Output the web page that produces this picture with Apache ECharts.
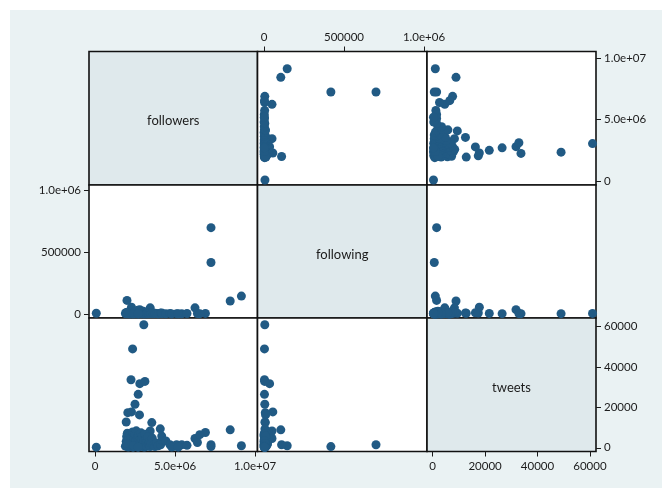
<!DOCTYPE html>
<html>
<head>
<meta charset="utf-8">
<script src="https://cdn.jsdelivr.net/npm/echarts@6/dist/echarts.min.js"></script>
<style>
  html, body { margin: 0; padding: 0; background: #ffffff; }
  #chart { width: 662px; height: 489px; }
</style>
</head>
<body>
<div id="chart"></div>
<script>
// Variable names shown on the diagonal
const varNames = ['followers', 'following', 'tweets'];

// One entry per account
const followers = [
  3050000, 2350000, 2250000, 2800000, 3120000, 2700000, 2500000, 2050000, 2280000, 2780000,
  1950000, 3550000, 4080000, 8450000, 6900000, 6250000, 6400000, 6550000, 3450000, 9150000,
  7250000, 7250000, 2000000, 80000,
  1900000, 1950000, 1980000, 2020000, 2050000, 2080000, 2120000, 2150000, 2180000, 2220000,
  2250000, 2280000, 2320000, 2350000, 2380000, 2420000, 2450000, 2480000, 2520000, 2550000,
  2580000, 2620000, 2650000, 2680000, 2720000, 2750000, 2780000, 2820000, 2850000, 2880000,
  2920000, 2950000, 2980000, 3020000, 3050000, 3080000, 3120000, 3150000, 3180000, 3220000,
  3250000, 3300000, 3350000, 3400000, 3450000, 3500000, 3580000, 3650000, 3750000, 3850000,
  3950000, 4100000, 4200000, 4170000, 4430000, 4690000, 5100000, 5420000, 5750000, 2000000,
  2400000, 2700000, 4800000, 5200000
];
const following = [
  5000, 3000, 3000, 35000, 4000, 3000, 5000, 8000, 55000, 10000,
  6000, 8000, 6000, 105000, 5000, 50000, 4000, 3000, 50000, 145000,
  700000, 418000, 110000, 6000,
  4000, 12000, 2000, 8000, 15000, 3000, 6000, 20000, 1000, 9000,
  5000, 14000, 2000, 25000, 7000, 3000, 11000, 1500, 18000, 4000,
  9000, 2500, 6000, 30000, 1000, 8000, 4000, 12000, 2000, 16000,
  5000, 3000, 7000, 22000, 1000, 9000, 4000, 13000, 2000, 6000,
  3000, 10000, 1500, 5000, 8000, 3000, 12000, 2000, 6000, 4000,
  1000, 7000, 3000, 9000, 2000, 5000, 3000, 2000, 4000, 6000,
  2000, 3000, 1000, 2000
];
const tweets = [
  61000, 49000, 33700, 31800, 32900, 26500, 21600, 17400, 17800, 16300,
  12800, 12500, 9400, 8900, 7600, 4600, 2600, 6500, 8300, 1000,
  1500, 600, 1500, 300,
  800, 3200, 5600, 7200, 1500, 400, 4300, 2400, 6500, 800,
  3800, 5200, 1900, 7800, 300, 2900, 4600, 6900, 1200, 3400,
  8400, 500, 2200, 5000, 6100, 1600, 3900, 700, 2700, 7400,
  4400, 1000, 5800, 2000, 3300, 400, 6700, 1400, 4100, 2600,
  800, 5300, 1800, 3000, 600, 2300, 4800, 1200, 600, 2400,
  1000, 1500, 3600, 5800, 3400, 1500, 1500, 1500, 1200, 2100,
  1000, 300, 400, 300
];

// Axis ticks and their labels
const followersTicks = [0, 5000000, 10000000];
const followersTickLabels = ['0', '5.0e+06', '1.0e+07'];
const followingTicks = [0, 500000, 1000000];
const followingTickLabels = ['0', '500000', '1.0e+06'];
const tweetsTicks = [0, 20000, 40000, 60000];
const tweetsTickLabels = ['0', '20000', '40000', '60000'];

const vars = [followers, following, tweets];
const ticks = [followersTicks, followingTicks, tweetsTicks];
const tickLabels = [followersTickLabels, followingTickLabels, tweetsTickLabels];

// Cell layout (pixels) and axis extents per column / row
const colEdges = [89, 257.5, 427, 596];
const rowEdges = [51.5, 185, 318, 451.5];
const colExtent = [[-375000, 10156000], [-40600, 1018750], [-2175, 62330]];
const rowExtent = [[-326000, 10554000], [-32400, 1046000], [-1840, 64330]];

const FONT = 'Lato, "DejaVu Sans", sans-serif';
const INK = '#1b1b1b';
const MARK = '#215a84';

function labelFor(k) {
  return function (v) {
    const i = ticks[k].findIndex(t => Math.abs(t - v) < 1e-6 * Math.max(1, Math.abs(t)));
    return i >= 0 ? tickLabels[k][i] : '';
  };
}

// Which outer axes carry ticks and labels
const xAxisShown = { '0,1': 'top', '2,0': 'bottom', '2,2': 'bottom' };
const yAxisShown = { '0,2': 'right', '1,0': 'left', '2,2': 'right' };

const grids = [], xAxes = [], yAxes = [], series = [], graphics = [];

graphics.push({
  type: 'rect', z: -10, silent: true,
  shape: { x: 10, y: 10, width: 652, height: 478 },
  style: { fill: '#eaf2f3' }
});

for (let r = 0; r < 3; r++) {
  for (let c = 0; c < 3; c++) {
    const k = r * 3 + c;
    const diag = r === c;
    grids.push({
      left: colEdges[c], top: rowEdges[r],
      width: colEdges[c + 1] - colEdges[c], height: rowEdges[r + 1] - rowEdges[r],
      show: true, backgroundColor: diag ? '#dfe9ec' : '#ffffff',
      borderColor: '#111111', borderWidth: 1.6, containLabel: false
    });
    const xPos = xAxisShown[r + ',' + c];
    const yPos = yAxisShown[r + ',' + c];
    xAxes.push({
      type: 'value', gridIndex: k,
      min: colExtent[c][0], max: colExtent[c][1],
      position: xPos || 'bottom',
      show: !!xPos,
      axisLine: { show: false, onZero: false },
      splitLine: { show: false },
      axisTick: { show: true, length: 5, lineStyle: { color: INK, width: 1 }, customValues: ticks[c] },
      axisLabel: {
        show: true, customValues: ticks[c], formatter: labelFor(c),
        fontFamily: FONT, fontSize: 11.5, color: INK, margin: xPos === 'top' ? 8 : 9
      }
    });
    yAxes.push({
      type: 'value', gridIndex: k,
      min: rowExtent[r][0], max: rowExtent[r][1],
      position: yPos || 'left',
      show: !!yPos,
      axisLine: { show: false, onZero: false },
      splitLine: { show: false },
      axisTick: { show: true, length: 5, lineStyle: { color: INK, width: 1 }, customValues: ticks[r] },
      axisLabel: {
        show: true, customValues: ticks[r], formatter: labelFor(r),
        fontFamily: FONT, fontSize: 11.5, color: INK, margin: 8
      }
    });
    if (diag) {
      graphics.push({
        type: 'text', silent: true, z: 50,
        x: (colEdges[c] + colEdges[c + 1]) / 2,
        y: (rowEdges[r] + rowEdges[r + 1]) / 2 + 3,
        style: {
          text: varNames[r], fill: INK, font: '13px ' + FONT,
          textAlign: 'center', textVerticalAlign: 'middle'
        }
      });
    } else {
      const xs = vars[c], ys = vars[r];
      series.push({
        type: 'scatter', xAxisIndex: k, yAxisIndex: k,
        symbol: 'circle', symbolSize: 9, clip: false,
        itemStyle: { color: MARK, opacity: 1 },
        emphasis: { disabled: true },
        data: xs.map((v, i) => [v, ys[i]])
      });
    }
  }
}

const chart = echarts.init(document.getElementById('chart'), null, { renderer: 'canvas' });
chart.setOption({
  animation: false,
  backgroundColor: '#ffffff',
  grid: grids,
  xAxis: xAxes,
  yAxis: yAxes,
  series: series,
  graphic: graphics
});
</script>
</body>
</html>
